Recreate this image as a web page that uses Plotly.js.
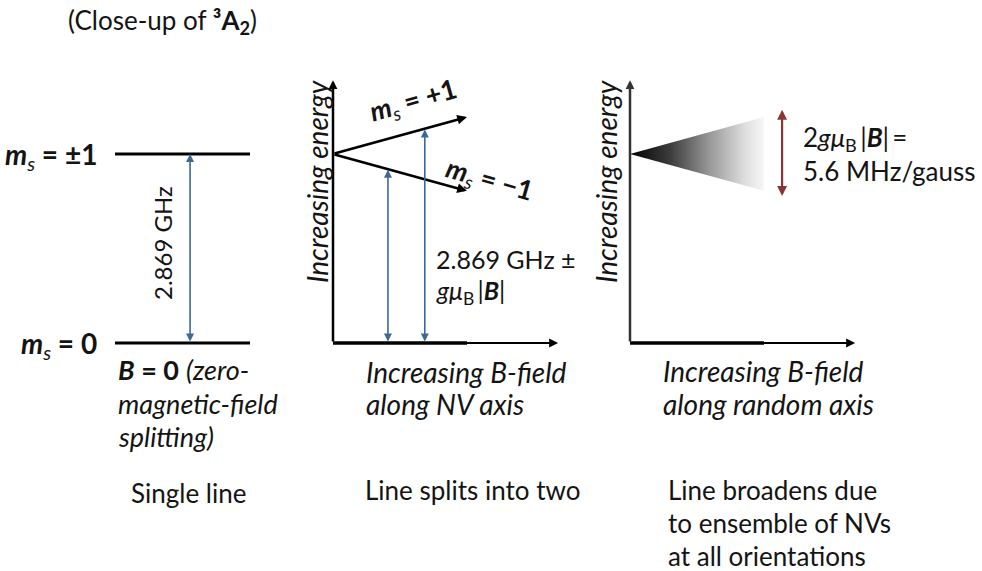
<!DOCTYPE html>
<html><head><meta charset="utf-8">
<script src="https://cdn.plot.ly/plotly-3.0.1.min.js"></script>
<style>html,body{margin:0;padding:0;background:#fff}#chart{width:982px;height:571px}</style>
</head><body><div id="chart"></div>
<script>
// ---------------- data ----------------
const levelEnergies = [2.869, 0];            // GHz: m_s = ±1 and m_s = 0 at B = 0
const levelSpan = [0, 1];                     // arbitrary horizontal extent of a level bar
const zfsArrowPos = 0.556;                    // position of the 2.869 GHz arrow on the bar
const bField = [0, 200];                      // gauss, extent of the split lines
const energyPlus = [2.869, 3.43];             // GHz, m_s = +1 branch
const energyMinus = [2.869, 2.31];            // GHz, m_s = -1 branch
const transitionFields = [82, 137];           // gauss, the two blue transition arrows
const transitionTops = [2.63, 3.24];          // GHz, where those arrows end
const broadField = [0, 200, 200];             // gauss, broadening wedge outline
const broadEnergy = [2.869, 3.43, 2.31];      // GHz
const broadArrowField = 227;                  // gauss, red width arrow
const broadArrowEnergy = [3.54, 2.21];        // GHz
const energyAxisTop = 3.99;                   // GHz, top of energy axis arrow
const fieldAxisBold = 200;                    // gauss, bold part of field axis
const fieldAxisEnd = 336;                     // gauss, tip of field axis arrow
const groundEnergy = 0;

// ---------------- layout helpers (pixel anchors) ----------------
const W = 982, H = 571;
const PX = x => x / W, PY = y => 1 - y / H;
const EPX = 189 / 2.869;                      // px per GHz
const BPX = 0.67;                             // px per gauss
const yRange = [-(H - 343) / EPX, 343 / EPX];
const FONT = 'Lato, "Open Sans", sans-serif';
const TXT = '#141414';
const BLUE = '#3c6995';
const RED = '#8a3535';

const traces = [
  // panel 1 energy levels
  {x: levelSpan, y: [levelEnergies[0], levelEnergies[0]], xaxis: 'x', yaxis: 'y', mode: 'lines',
   line: {color: '#000', width: 3}, hoverinfo: 'skip'},
  {x: levelSpan, y: [levelEnergies[1], levelEnergies[1]], xaxis: 'x', yaxis: 'y', mode: 'lines',
   line: {color: '#000', width: 3}, hoverinfo: 'skip'},
  // panel 2 bold part of field axis
  {x: [0, fieldAxisBold], y: [groundEnergy, groundEnergy], xaxis: 'x2', yaxis: 'y', mode: 'lines',
   line: {color: '#000', width: 3.5}, hoverinfo: 'skip'},
  // panel 3 broadening wedge
  {x: broadField, y: broadEnergy, xaxis: 'x3', yaxis: 'y', mode: 'lines', fill: 'toself',
   line: {width: 0, color: 'rgba(0,0,0,0)'},
   fillgradient: {type: 'horizontal',
     colorscale: [[0, '#000000'], [0.3, '#3c3c3c'], [0.6, '#9a9a9a'], [0.85, '#dcdcdc'], [1, '#f7f7f7']]},
   hoverinfo: 'skip'},
  // panel 3 bold part of field axis
  {x: [0, fieldAxisBold], y: [groundEnergy, groundEnergy], xaxis: 'x3', yaxis: 'y', mode: 'lines',
   line: {color: '#000', width: 3.5}, hoverinfo: 'skip'}
];

function arrow(xref, x0, y0, x1, y1, color, width, both, size) {
  return {xref: xref, yref: 'y', axref: xref, ayref: 'y', x: x1, y: y1, ax: x0, ay: y0,
          text: '', showarrow: true, arrowhead: 2, arrowsize: size || 1, arrowwidth: width,
          arrowcolor: color, arrowside: both ? 'end+start' : 'end', standoff: 0, startstandoff: 0};
}
function label(text, x, y, size, opts) {
  return Object.assign({xref: 'paper', yref: 'paper', x: PX(x), y: PY(y), text: text, showarrow: false,
    xanchor: 'left', yanchor: 'middle', align: 'left', font: {family: FONT, size: size, color: TXT}}, opts || {});
}

const annotations = [
  // panel 1 arrow
  arrow('x', zfsArrowPos, levelEnergies[1], zfsArrowPos, levelEnergies[0], BLUE, 1.6, true, 1),
  // panel 2 axes
  arrow('x2', 0, groundEnergy, 0, energyAxisTop, '#000', 2.5, false, 0.7),
  arrow('x2', 0, groundEnergy, fieldAxisEnd, groundEnergy, '#000', 2, false, 0.9),
  // panel 2 split lines
  arrow('x2', bField[0], energyPlus[0], bField[1], energyPlus[1], '#000', 2.6, false, 0.75),
  arrow('x2', bField[0], energyMinus[0], bField[1], energyMinus[1], '#000', 2.6, false, 0.75),
  // panel 2 transitions
  arrow('x2', transitionFields[0], groundEnergy, transitionFields[0], transitionTops[0], BLUE, 1.6, true, 1),
  arrow('x2', transitionFields[1], groundEnergy, transitionFields[1], transitionTops[1], BLUE, 1.6, true, 1),
  // panel 3 axes
  arrow('x3', 0, groundEnergy, 0, energyAxisTop, '#333', 2.5, false, 0.7),
  arrow('x3', 0, groundEnergy, fieldAxisEnd, groundEnergy, '#000', 2, false, 0.9),
  // panel 3 broadening arrow
  arrow('x3', broadArrowField, broadArrowEnergy[1], broadArrowField, broadArrowEnergy[0], RED, 2.2, true, 0.9),

  // texts
  label('(Close-up of <b>³A</b><b><sub>2</sub></b>)', 162, 22, 26, {xanchor: 'center'}),
  label('<b><i>m</i></b><i><sub>s</sub></i><b> = ±1</b>', 99, 156, 28, {xanchor: 'right'}),
  label('<b><i>m</i></b><i><sub>s</sub></i><b> = 0</b>', 99, 345, 28, {xanchor: 'right'}),
  label('2.869 GHz', 163, 243, 24, {xanchor: 'center', textangle: -90}),
  label('<b><i>B</i> = 0</b> <i>(zero-</i>', 116, 369, 27),
  label('<i>magnetic-field</i>', 116, 403, 27),
  label('<i>splitting)</i>', 116, 436, 27),
  label('Single line', 188, 493, 26, {xanchor: 'center'}),

  label('<i>Increasing energy</i>', 317, 182, 28, {xanchor: 'center', textangle: -90}),
  label('<b><i>m</i></b><i><sub>s</sub></i><b> = +1</b>', 413, 102, 27, {xanchor: 'center', textangle: -16}),
  label('<b><i>m</i></b><i><sub>s</sub></i><b> = −1</b>', 489, 180, 27, {xanchor: 'center', textangle: 16}),
  label('2.869 GHz ±', 434, 259, 25),
  label('<i>gμ</i><sub>B</sub>\u2009|<b><i>B</i></b>|', 434, 292, 25),
  label('<i>Increasing B-field</i>', 364, 372, 28),
  label('<i>along NV axis</i>', 364, 404, 28),
  label('Line splits into two', 472, 490, 26, {xanchor: 'center'}),

  label('<i>Increasing energy</i>', 606, 182, 28, {xanchor: 'center', textangle: -90}),
  label('2<i>gμ</i><sub>B</sub>\u2009|<b><i>B</i></b>|\u2009=<br>5.6 MHz/gauss', 801, 154, 26),
  label('<i>Increasing B-field</i>', 661, 371, 28),
  label('<i>along random axis</i>', 661, 404, 28),
  label('Line broadens due', 666, 490, 26),
  label('to ensemble of NVs', 666, 523, 26),
  label('at all orientations', 666, 556, 26)
];

const hidden = {visible: false, fixedrange: true};
const layout = {
  width: W, height: H, margin: {l: 0, r: 0, t: 0, b: 0, pad: 0},
  paper_bgcolor: '#ffffff', plot_bgcolor: 'rgba(0,0,0,0)', showlegend: false,
  xaxis: Object.assign({domain: [0, PX(290)], range: [(0 - 115) / 135, (290 - 115) / 135], anchor: 'y'}, hidden),
  xaxis2: Object.assign({domain: [PX(290), PX(590)], range: [(290 - 333) / BPX, (590 - 333) / BPX], anchor: 'y'}, hidden),
  xaxis3: Object.assign({domain: [PX(590), 1], range: [(590 - 630) / BPX, (982 - 630) / BPX], anchor: 'y'}, hidden),
  yaxis: Object.assign({domain: [0, 1], range: yRange, anchor: 'x'}, hidden),
  annotations: annotations
};

Plotly.newPlot('chart', traces, layout, {staticPlot: true, displayModeBar: false});
</script></body></html>
